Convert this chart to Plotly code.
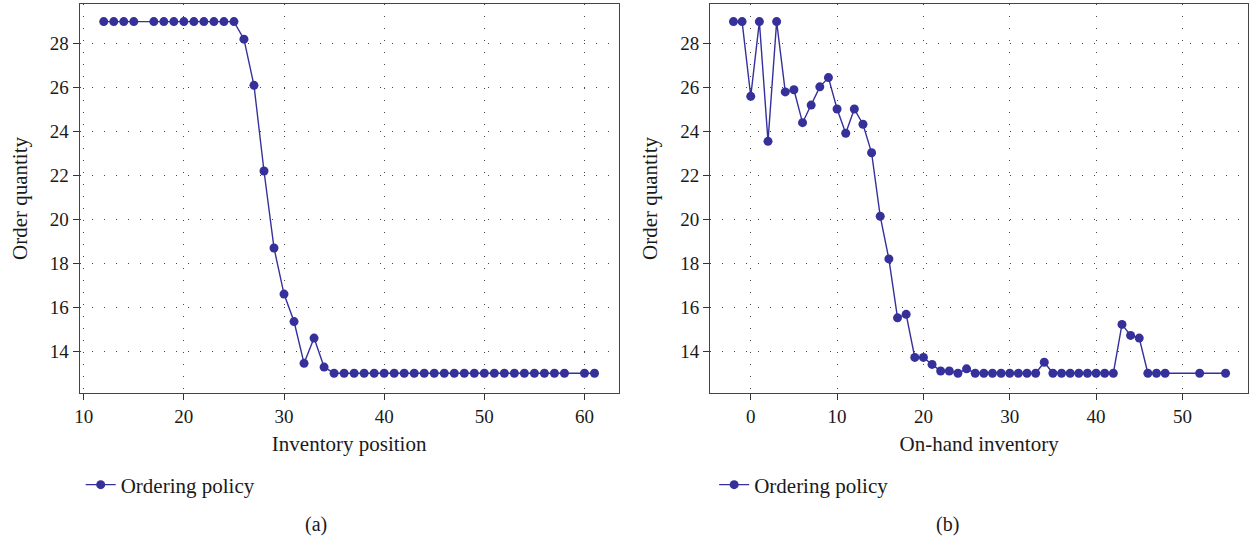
import plotly.graph_objects as go

# Panel (a): inventory position vs order quantity
inv_pos = [12, 13, 14, 15, 17, 18, 19, 20, 21, 22, 23, 24, 25, 26, 27, 28, 29, 30, 31, 32, 33, 34,
           35, 36, 37, 38, 39, 40, 41, 42, 43, 44, 45, 46, 47, 48, 49, 50, 51, 52, 53, 54, 55, 56, 57, 58,
           60, 61]
order_a = [29, 29, 29, 29, 29, 29, 29, 29, 29, 29, 29, 29, 29, 28.2, 26.1, 22.2, 18.7, 16.6, 15.35, 13.45, 14.6, 13.28,
           13, 13, 13, 13, 13, 13, 13, 13, 13, 13, 13, 13, 13, 13, 13, 13, 13, 13, 13, 13, 13, 13, 13, 13,
           13, 13]

# Panel (b): on-hand inventory vs order quantity
on_hand = [-2, -1, 0, 1, 2, 3, 4, 5, 6, 7, 8, 9, 10, 11, 12, 13, 14, 15, 16, 17, 18, 19, 20,
           21, 22, 23, 24, 25, 26, 27, 28, 29, 30, 31, 32, 33, 34, 35, 36, 37, 38, 39, 40, 41, 42,
           43, 44, 45, 46, 47, 48, 52, 55]
order_b = [29, 29, 25.6, 29, 23.55, 29, 25.8, 25.9, 24.4, 25.2, 26.03, 26.45, 25.02, 23.92, 25.02, 24.33, 23.03,
           20.14, 18.2, 15.52, 15.68, 13.72, 13.72,
           13.4, 13.1, 13.1, 13.0, 13.2, 13, 13, 13, 13, 13, 13, 13, 13, 13.5, 13, 13, 13, 13, 13, 13, 13, 13,
           15.22, 14.72, 14.6, 13, 13, 13, 13, 13]

series_name = "Ordering policy"
x_titles = ["Inventory position", "On-hand inventory"]
y_title = "Order quantity"
panel_labels = ["(a)", "(b)"]

COLOR = "#35309a"
FONT = "Liberation Serif"
TXT = "#1a1a1a"
W, H = 1250, 539

fig = go.Figure()
fig.add_trace(go.Scatter(x=inv_pos, y=order_a, mode="lines+markers", name=series_name,
                         line=dict(color=COLOR, width=1.4), marker=dict(color=COLOR, size=9),
                         xaxis="x", yaxis="y", legend="legend"))
fig.add_trace(go.Scatter(x=on_hand, y=order_b, mode="lines+markers", name=series_name,
                         line=dict(color=COLOR, width=1.4), marker=dict(color=COLOR, size=9),
                         xaxis="x2", yaxis="y2", legend="legend2"))

ydom = [1 - 393 / H, 1 - 4 / H]
common_ax = dict(showline=True, linecolor="#444", linewidth=1.3, mirror=True,
                 ticks="outside", ticklen=6, tickcolor="#333", tickwidth=1.2,
                 showgrid=True, gridcolor="#444", gridwidth=1, griddash="1px,11px",
                 zeroline=False, tickfont=dict(family=FONT, size=19, color=TXT))
title_font = dict(family=FONT, size=21, color=TXT)

fig.update_layout(
    width=W, height=H,
    margin=dict(l=0, r=0, t=0, b=0),
    paper_bgcolor="white", plot_bgcolor="white",
    font=dict(family=FONT, size=19, color=TXT),
    xaxis=dict(domain=[75 / W, 616 / W], range=[9.6, 63.4], dtick=10, anchor="y",
               title=dict(text=x_titles[0], font=title_font, standoff=10), **common_ax),
    yaxis=dict(domain=ydom, range=[12.1, 29.8], dtick=2, tick0=0, anchor="x",
               title=dict(text=y_title, font=title_font, standoff=16), **common_ax),
    xaxis2=dict(domain=[708 / W, 1248 / W], range=[-4.7, 57.6], dtick=10, anchor="y2",
                title=dict(text=x_titles[1], font=title_font, standoff=10), **common_ax),
    yaxis2=dict(domain=ydom, range=[12.1, 29.8], dtick=2, tick0=0, anchor="x2",
                title=dict(text=y_title, font=title_font, standoff=16), **common_ax),
    legend=dict(x=76 / W, y=1 - 485 / H, xanchor="left", yanchor="middle",
                font=dict(family=FONT, size=21, color=TXT), bgcolor="rgba(0,0,0,0)"),
    legend2=dict(x=712 / W, y=1 - 485 / H, xanchor="left", yanchor="middle",
                 font=dict(family=FONT, size=21, color=TXT), bgcolor="rgba(0,0,0,0)"),
    showlegend=True,
    annotations=[
        dict(text=panel_labels[0], x=312 / W, y=1 - 524 / H, xref="paper", yref="paper",
             xanchor="center", yanchor="middle",
             showarrow=False, font=dict(family=FONT, size=20, color=TXT)),
        dict(text=panel_labels[1], x=946 / W, y=1 - 524 / H, xref="paper", yref="paper",
             xanchor="center", yanchor="middle",
             showarrow=False, font=dict(family=FONT, size=20, color=TXT)),
    ],
)

fig.write_html("out.html")
